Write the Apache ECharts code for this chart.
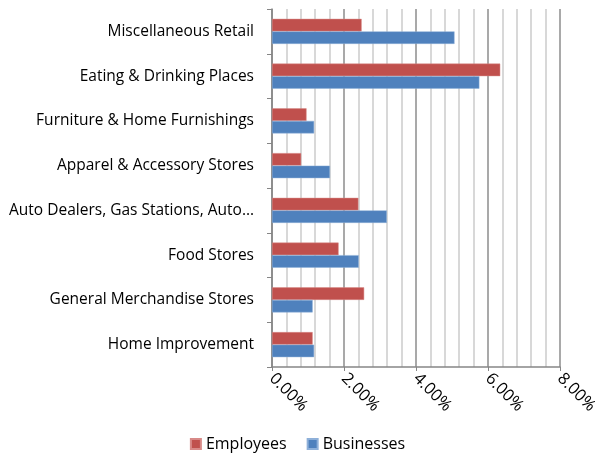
<!DOCTYPE html>
<html>
<head>
<meta charset="utf-8">
<script src="https://cdn.jsdelivr.net/npm/echarts@6/dist/echarts.min.js"></script>
<style>
  html, body { margin: 0; padding: 0; background: #fff; }
  #chart { width: 595px; height: 459px; }
</style>
</head>
<body>
<div id="chart"></div>
<script>
// categories, top to bottom
const categories = [
  'Miscellaneous Retail',
  'Eating & Drinking Places',
  'Furniture & Home Furnishings',
  'Apparel & Accessory Stores',
  'Auto Dealers, Gas Stations, Auto…',
  'Food Stores',
  'General Merchandise Stores',
  'Home Improvement'
];
// share in percent
const employees = [2.49, 6.34, 0.96, 0.81, 2.40, 1.85, 2.56, 1.13];
const businesses = [5.07, 5.76, 1.17, 1.61, 3.19, 2.41, 1.13, 1.17];

const font = '"Open Sans", sans-serif';
let myChart = echarts.init(document.getElementById('chart'));
myChart.setOption({
  animation: false,
  grid: { left: 272, right: 35, top: 9, bottom: 92, outerBoundsMode: 'none', containLabel: false },
  legend: {
    bottom: 2,
    left: 'center',
    itemWidth: 10,
    itemHeight: 10,
    itemGap: 20,
    icon: 'rect',
    textStyle: { fontFamily: font, fontSize: 16, color: '#000' },
    data: ['Employees', 'Businesses']
  },
  xAxis: {
    type: 'value',
    min: 0,
    max: 8,
    interval: 2,
    axisLine: { show: true, lineStyle: { color: '#868686', width: 1.5 } },
    axisTick: { show: true, length: 4, lineStyle: { color: '#868686' } },
    axisLabel: {
      rotate: -45,
      margin: 9,
      fontFamily: font,
      fontSize: 16.5,
      color: '#000',
      formatter: v => v.toFixed(2) + '%'
    },
    splitLine: { show: true, lineStyle: { color: '#8c8c8c', width: 1.5 } },
    minorTick: { show: false, splitNumber: 5 },
    minorSplitLine: { show: true, lineStyle: { color: '#cbcbcb', width: 1.5 } }
  },
  yAxis: {
    type: 'category',
    inverse: true,
    data: categories,
    axisLine: { show: true, lineStyle: { color: '#868686', width: 1.5 } },
    axisTick: { show: true, length: 5, lineStyle: { color: '#868686' } },
    axisLabel: { margin: 18, fontFamily: font, fontSize: 15.5, color: '#000' }
  },
  series: [
    {
      name: 'Employees',
      type: 'bar',
      data: employees,
      barGap: '0%',
      barCategoryGap: '44%',
      itemStyle: { color: '#c0504d', borderColor: '#d88a88', borderWidth: 0.5 }
    },
    {
      name: 'Businesses',
      type: 'bar',
      data: businesses,
      barGap: '0%',
      barCategoryGap: '44%',
      itemStyle: { color: '#4f81bd', borderColor: '#8eb0d9', borderWidth: 0.5 }
    }
  ]
});
</script>
</body>
</html>
